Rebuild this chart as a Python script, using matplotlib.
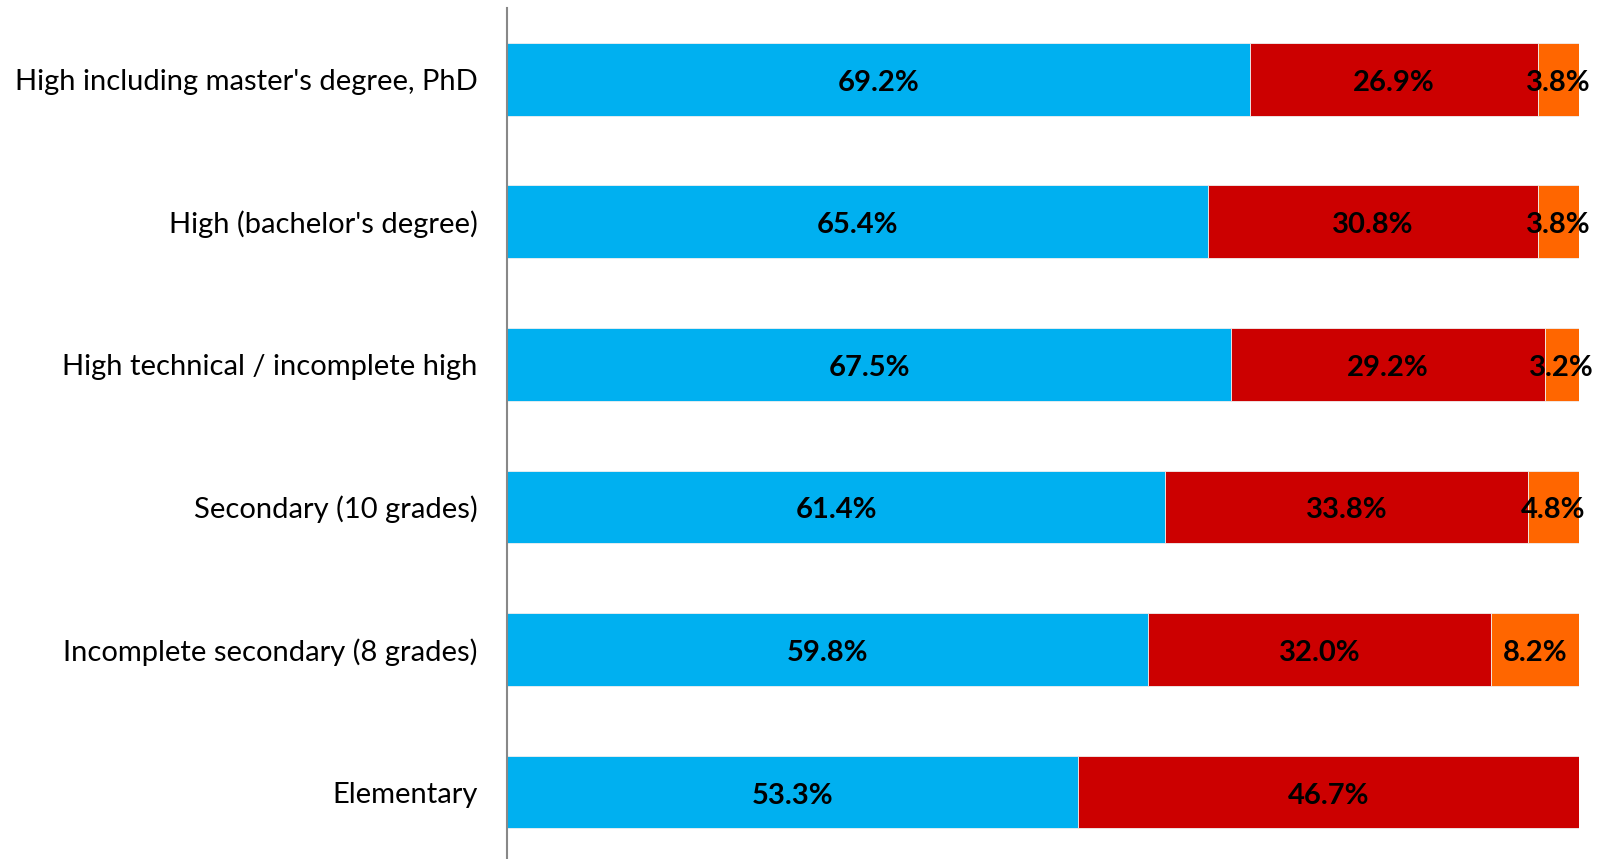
import matplotlib.pyplot as plt
import numpy as np

plt.rcParams['font.family'] = ['Lato', 'DejaVu Sans']

categories = ["High including master's degree, PhD",
              "High (bachelor's degree)",
              "High technical / incomplete high",
              "Secondary (10 grades)",
              "Incomplete secondary (8 grades)",
              "Elementary"]
blue_vals = [69.2, 65.4, 67.5, 61.4, 59.8, 53.3]
red_vals = [26.9, 30.8, 29.2, 33.8, 32.0, 46.7]
orange_vals = [3.8, 3.8, 3.2, 4.8, 8.2, 0.0]

series = [blue_vals, red_vals, orange_vals]
colors = ["#00B0F0", "#CC0000", "#FF6600"]

fig = plt.figure(figsize=(16.1, 8.59), dpi=100)
ax = fig.add_axes([507 / 1610, 0, (1579 - 507) / 1610, (859 - 8) / 859])

y = np.arange(len(categories))
totals = np.array(blue_vals) + np.array(red_vals) + np.array(orange_vals)
left = np.zeros(len(categories))
for vals, c in zip(series, colors):
    vals = np.array(vals)
    frac = vals / totals
    ax.barh(y, frac, left=left, height=0.51, color=c, edgecolor='#f0f0f0', linewidth=0.6)
    for i in range(len(y)):
        if vals[i] > 0:
            ax.text(left[i] + frac[i] / 2, y[i] + 0.025, f"{vals[i]:.1f}%", ha='center', va='center',
                    fontsize=21, fontweight='bold', color='black')
    left += frac

ax.set_xlim(0, 1)
ax.set_ylim(5.47, -0.5)
ax.set_yticks(y)
ax.set_yticklabels(categories, fontsize=21)
ax.tick_params(axis='y', length=0, pad=21)
ax.set_xticks([])
for s in ['top', 'right', 'bottom']:
    ax.spines[s].set_visible(False)
ax.spines['left'].set_color('#888888')
ax.spines['left'].set_linewidth(1.5)

fig.savefig('out.png', dpi=100)
